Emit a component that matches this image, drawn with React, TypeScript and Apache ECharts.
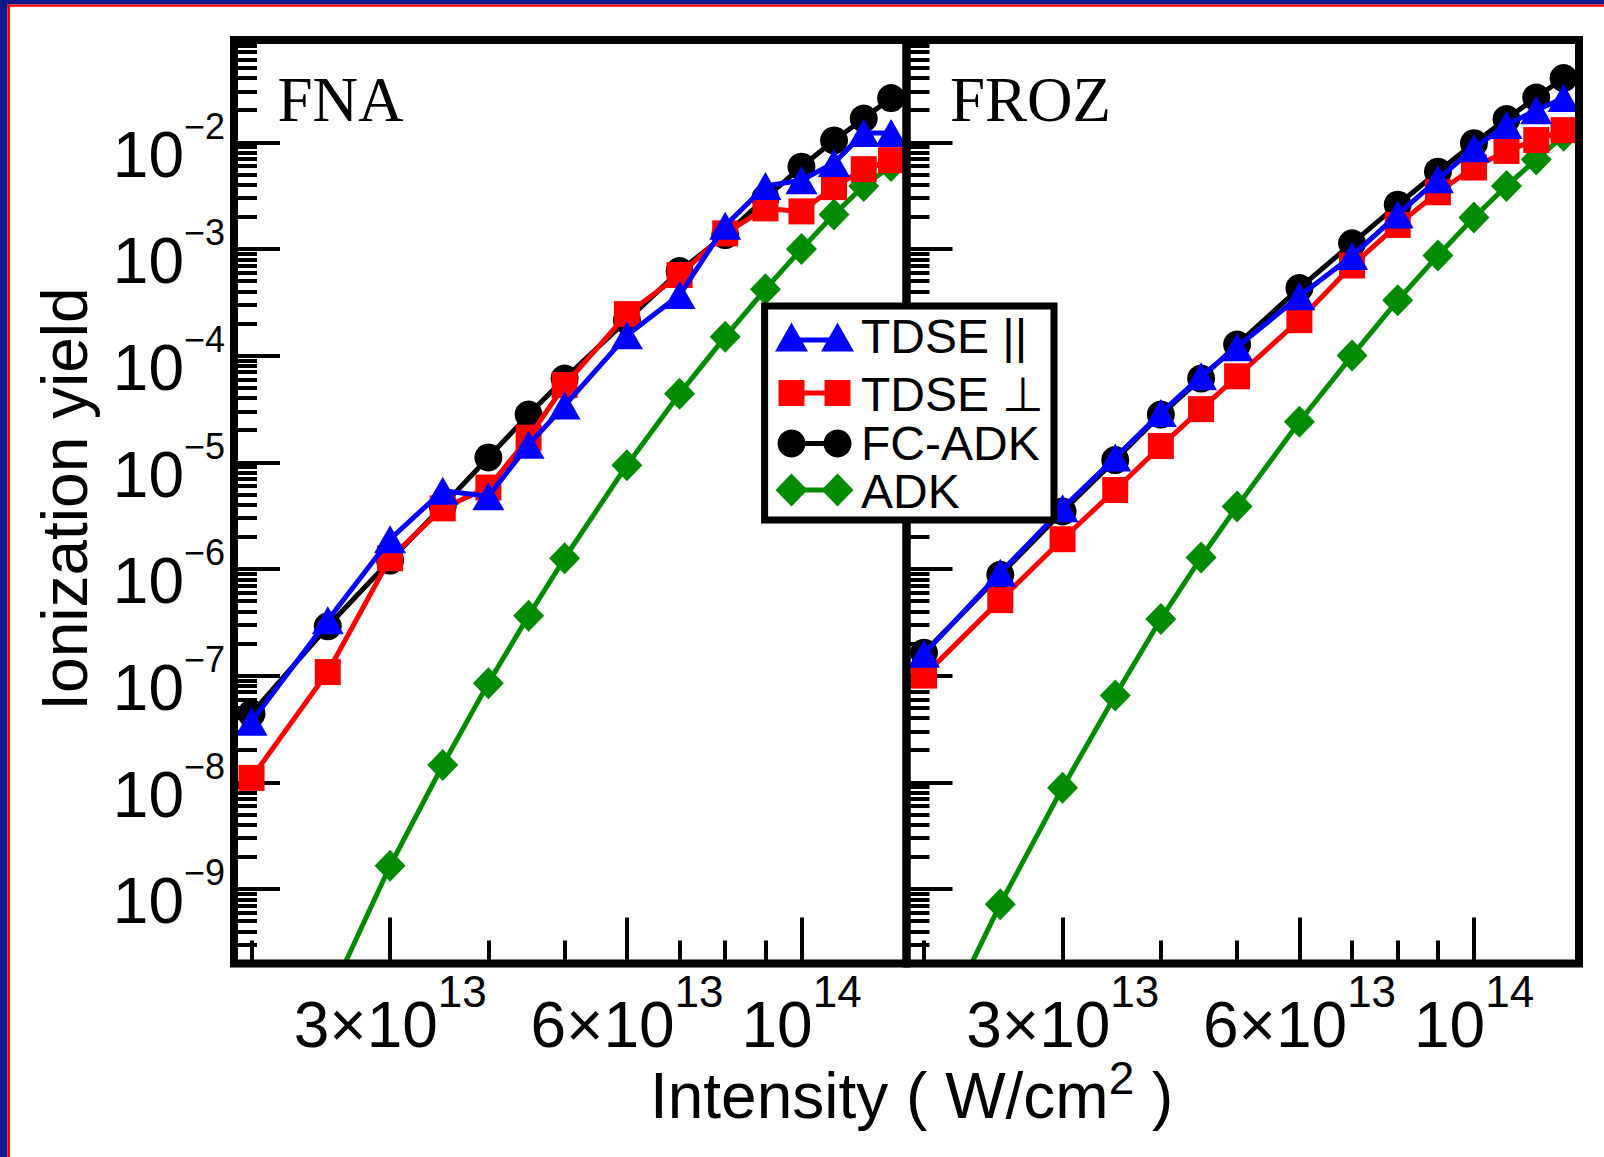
import React, { useEffect, useRef } from "react";
import * as echarts from "echarts";

// Laser intensity (W/cm^2), shared by both panels
const intensity = [
  2e13, 2.5e13, 3e13, 3.5e13, 4e13, 4.5e13, 5e13, 6e13, 7e13, 8e13, 9e13, 1e14,
  1.1e14, 1.2e14, 1.3e14,
];

// FNA panel: ionization yields
const fnaTdsePar = [
  3.7e-8, 3.3e-7, 1.9e-6, 5.4e-6, 4.8e-6, 1.46e-5, 3.4e-5, 1.55e-4, 3.7e-4,
  1.65e-3, 3.9e-3, 4.4e-3, 6.4e-3, 1.22e-2, 1.22e-2,
];
const fnaTdsePerp = [
  1.1e-8, 1.08e-7, 1.26e-6, 3.7e-6, 5.8e-6, 1.7e-5, 5.3e-5, 2.45e-4, 5.7e-4,
  1.4e-3, 2.4e-3, 2.25e-3, 3.8e-3, 5.6e-3, 6.8e-3,
];
const fnaFcAdk = [
  4.4e-8, 2.9e-7, 1.2e-6, 3.9e-6, 1.11e-5, 2.8e-5, 6.1e-5, 2.15e-4, 6.2e-4,
  1.35e-3, 3.0e-3, 5.9e-3, 1.04e-2, 1.67e-2, 2.6e-2,
];
const fnaAdk = [
  3e-12, 9e-11, 1.65e-9, 1.45e-8, 8.5e-8, 3.65e-7, 1.26e-6, 9.4e-6, 4.4e-5,
  1.5e-4, 4.2e-4, 1.0e-3, 2.1e-3, 3.9e-3, 6.0e-3,
];

// FROZ panel: ionization yields
const frozTdsePar = [
  1.6e-7, 9.2e-7, 3.7e-6, 1.11e-5, 2.9e-5, 6.4e-5, 1.2e-4, 3.6e-4, 8.6e-4,
  2.1e-3, 4.5e-3, 8.8e-3, 1.45e-2, 2.0e-2, 2.6e-2,
];
const frozTdsePerp = [
  1.0e-7, 5.1e-7, 1.9e-6, 5.5e-6, 1.42e-5, 3.15e-5, 6.4e-5, 2.15e-4, 7.0e-4,
  1.68e-3, 3.4e-3, 5.8e-3, 8.3e-3, 1.05e-2, 1.3e-2,
];
const frozFcAdk = [
  1.64e-7, 8.8e-7, 3.46e-6, 1.05e-5, 2.8e-5, 6.1e-5, 1.27e-4, 4.3e-4, 1.13e-3,
  2.6e-3, 5.3e-3, 9.8e-3, 1.65e-2, 2.63e-2, 4.0e-2,
];
const frozAdk = [
  2.4e-11, 7.2e-10, 8.9e-9, 6.5e-8, 3.4e-7, 1.28e-6, 3.86e-6, 2.4e-5, 1.0e-4,
  3.3e-4, 8.7e-4, 1.97e-3, 3.9e-3, 6.9e-3, 1.15e-2,
];

// Axis ranges
const xRange = [1.9e13, 1.36e14];
const yRange = [2e-10, 0.091];

// Tick values and labels
const xMajorTicks = [3e13, 6e13, 1e14];
const xMajorLabels = [
  ["3×10", "13"],
  ["6×10", "13"],
  ["10", "14"],
];
const xMinorTicks = [2e13, 4e13, 5e13, 7e13, 8e13, 9e13];
const yMajorTicks = [1e-9, 1e-8, 1e-7, 1e-6, 1e-5, 1e-4, 1e-3, 1e-2];
const yMajorLabels = [
  ["10", "−9"],
  ["10", "−8"],
  ["10", "−7"],
  ["10", "−6"],
  ["10", "−5"],
  ["10", "−4"],
  ["10", "−3"],
  ["10", "−2"],
];

const panelTitles = ["FNA", "FROZ"];
const seriesNames = ["TDSE ||", "TDSE ⊥", "FC-ADK", "ADK"];
const seriesColors = ["#0000ff", "#ff0000", "#000000", "#008b00"];
const seriesSymbols = ["triangle", "rect", "circle", "diamond"];
const seriesSymbolSizes: any[] = [[32, 28], 26, 28, [31, 32]];

const SANS = '"Liberation Sans", Arial, Helvetica, sans-serif';
const SERIF = '"Liberation Serif", "Times New Roman", serif';

const log = Math.log10;

// minor y ticks: 2..9 x 10^k inside the range
function minorYTicks(): number[] {
  const out: number[] = [];
  for (let k = -10; k <= -1; k++) {
    for (let m = 2; m <= 9; m++) {
      const v = m * Math.pow(10, k);
      if (v > yRange[0] * 1.001 && v < yRange[1]) out.push(v);
    }
  }
  return out;
}

function nearestIndex(list: number[], value: number): number {
  let best = 0;
  let dist = Infinity;
  list.forEach((v, i) => {
    const d = Math.abs(log(v) - value);
    if (d < dist) {
      dist = d;
      best = i;
    }
  });
  return best;
}

// layout of the two panels (pixels)
const GRID_TOP = 40;
const GRID_H = 923.5;
const GRID_W = 672.5;
const GRID_LEFTS = [234, 906.5];

const xLabelRich = {
  h: { fontSize: 1, lineHeight: 87.4 },
  b: { fontSize: 64, lineHeight: 64, verticalAlign: "bottom", fontFamily: SANS, color: "#000" },
  s: { fontSize: 44, verticalAlign: "top", fontFamily: SANS, color: "#000" },
};
const yLabelRich = {
  h: { fontSize: 1, lineHeight: 89 },
  b: { fontSize: 64, lineHeight: 64, verticalAlign: "bottom", fontFamily: SANS, color: "#000" },
  s: { fontSize: 36, verticalAlign: "top", padding: [10.4, 0, 0, 0], fontFamily: SANS, color: "#000" },
};

function buildOption() {
  const yMinor = minorYTicks();
  const grids: any[] = [];
  const xAxes: any[] = [];
  const yAxes: any[] = [];
  const series: any[] = [];

  const panels = [
    [fnaTdsePar, fnaTdsePerp, fnaFcAdk, fnaAdk],
    [frozTdsePar, frozTdsePerp, frozFcAdk, frozAdk],
  ];

  panels.forEach((sets, p) => {
    grids.push({
      left: GRID_LEFTS[p],
      top: GRID_TOP,
      width: GRID_W,
      height: GRID_H,
      show: true,
      backgroundColor: "transparent",
      borderColor: "#000",
      borderWidth: 8,
      z: 10,
    });

    const xBase = {
      type: "value",
      gridIndex: p,
      position: "bottom",
      offset: 0,
      min: log(xRange[0]),
      max: log(xRange[1]),
      axisLine: { show: false },
      splitLine: { show: false },
    };
    // major x ticks with labels
    xAxes.push({
      ...xBase,
      axisTick: {
        show: true,
        inside: true,
        length: 46,
        customValues: xMajorTicks.map(log),
        lineStyle: { color: "#000", width: 4 },
      },
      axisLabel: {
        show: true,
        margin: 6,
        customValues: xMajorTicks.map(log),
        formatter: (v: number) => {
          const [b, s] = xMajorLabels[nearestIndex(xMajorTicks, v)];
          return `{h| }{b|${b}}{s|${s}}`;
        },
        rich: xLabelRich,
      },
    });
    // minor x ticks
    xAxes.push({
      ...xBase,
      axisTick: {
        show: true,
        inside: true,
        length: 23,
        customValues: xMinorTicks.map(log),
        lineStyle: { color: "#000", width: 4 },
      },
      axisLabel: { show: false },
    });

    const yBase = {
      type: "value",
      gridIndex: p,
      position: "left",
      offset: 0,
      min: log(yRange[0]),
      max: log(yRange[1]),
      axisLine: { show: false },
      splitLine: { show: false },
    };
    yAxes.push({
      ...yBase,
      axisTick: {
        show: true,
        inside: true,
        length: 46,
        customValues: yMajorTicks.map(log),
        lineStyle: { color: "#000", width: 4 },
      },
      axisLabel: {
        show: p === 0,
        margin: 9,
        customValues: yMajorTicks.map(log),
        formatter: (v: number) => {
          const [b, s] = yMajorLabels[nearestIndex(yMajorTicks, v)];
          return `{h| }{b|${b}}{s|${s}}`;
        },
        rich: yLabelRich,
      },
    });
    yAxes.push({
      ...yBase,
      axisTick: {
        show: true,
        inside: true,
        length: 23,
        customValues: yMinor.map(log),
        lineStyle: { color: "#000", width: 4 },
      },
      axisLabel: { show: false },
    });

    // draw ADK first, TDSE || last (on top)
    [3, 2, 1, 0].forEach((s, order) => {
      series.push({
        type: "line",
        name: seriesNames[s],
        xAxisIndex: p * 2,
        yAxisIndex: p * 2,
        z: 2 + order,
        data: intensity.map((x, i) => [log(x), log(sets[s][i])]),
        symbol: seriesSymbols[s],
        symbolSize: seriesSymbolSizes[s],
        showAllSymbol: true,
        clip: true,
        lineStyle: { color: seriesColors[s], width: 5 },
        itemStyle: { color: seriesColors[s], borderWidth: 0 },
        emphasis: { disabled: true },
        silent: true,
      });
    });
  });

  // legend box contents
  const legendRows = [
    { lineY: 340, markY: 337, textY: 336.5 },
    { lineY: 393, markY: 393, textY: 394 },
    { lineY: 443.5, markY: 443.5, textY: 443.5 },
    { lineY: 490, markY: 490, textY: 491.5 },
  ];
  const markX = [791.5, 837.5];
  const legendEls: any[] = [
    {
      type: "rect",
      shape: { x: 764.6, y: 306, width: 289.4, height: 214 },
      style: { fill: "#fff", stroke: "#000", lineWidth: 7 },
      z: 100,
    },
  ];
  legendRows.forEach((r, s) => {
    const color = seriesColors[s];
    legendEls.push({
      type: "line",
      shape: { x1: markX[0], y1: r.lineY, x2: markX[1], y2: r.lineY },
      style: { stroke: color, lineWidth: 5 },
      z: 101,
    });
    markX.forEach((cx) => {
      const cy = r.markY;
      let el: any;
      if (s === 0) {
        el = {
          type: "polygon",
          shape: { points: [[cx, cy - 14.5], [cx + 16.5, cy + 14.5], [cx - 16.5, cy + 14.5]] },
        };
      } else if (s === 1) {
        el = { type: "rect", shape: { x: cx - 13, y: cy - 13, width: 26, height: 26 } };
      } else if (s === 2) {
        el = { type: "circle", shape: { cx, cy, r: 14 } };
      } else {
        el = {
          type: "polygon",
          shape: { points: [[cx, cy - 16.5], [cx + 16, cy], [cx, cy + 16.5], [cx - 16, cy]] },
        };
      }
      el.style = { fill: color };
      el.z = 102;
      legendEls.push(el);
    });
    legendEls.push({
      type: "text",
      x: 861,
      y: r.textY,
      z: 102,
      style: {
        text: seriesNames[s],
        font: `48px ${SANS}`,
        fill: "#000",
        align: "left",
        verticalAlign: "middle",
      },
    });
  });

  const graphic: any[] = [
    // slide frame
    { type: "rect", shape: { x: 0, y: 0, width: 1604, height: 4.5 }, style: { fill: "#0e1a8c" }, z: 50 },
    { type: "rect", shape: { x: 0, y: 0, width: 7.5, height: 1157 }, style: { fill: "#0e1a8c" }, z: 50 },
    { type: "rect", shape: { x: 7.5, y: 4.5, width: 1596.5, height: 2.2 }, style: { fill: "#ff0000" }, z: 50 },
    { type: "rect", shape: { x: 7.5, y: 4.5, width: 2.5, height: 1152.5 }, style: { fill: "#ff0000" }, z: 50 },
    // panel titles
    ...panelTitles.map((t, p) => ({
      type: "text",
      x: GRID_LEFTS[p] + 43.5,
      y: 100.4,
      z: 50,
      style: { text: t, font: `63px ${SERIF}`, fill: "#000", align: "left", verticalAlign: "middle" },
    })),
    // y-axis title
    {
      type: "text",
      x: 64.8,
      y: 499,
      rotation: Math.PI / 2,
      z: 50,
      style: {
        text: "Ionization yield",
        font: `64px ${SANS}`,
        fill: "#000",
        align: "center",
        verticalAlign: "middle",
      },
    },
    // x-axis title
    {
      type: "text",
      x: 911.5,
      y: 1047.7,
      z: 50,
      style: {
        text: "{h| }{b|Intensity ( W/cm}{s|2}{b| )}",
        align: "center",
        verticalAlign: "top",
        rich: {
          h: { fontSize: 1, lineHeight: 80 },
          b: { fontSize: 64, lineHeight: 64, verticalAlign: "bottom", fontFamily: SANS, fill: "#000" },
          s: { fontSize: 46, verticalAlign: "top", padding: [7.4, 0, 0, 0], fontFamily: SANS, fill: "#000" },
        },
      },
    },
    ...legendEls,
  ];

  return {
    animation: false,
    backgroundColor: "#ffffff",
    grid: grids,
    xAxis: xAxes,
    yAxis: yAxes,
    series,
    graphic,
  };
}

export default function App() {
  const ref = useRef<HTMLDivElement>(null);
  useEffect(() => {
    if (!ref.current) return;
    const chart = echarts.init(ref.current, undefined, { renderer: "svg" });
    chart.setOption(buildOption() as any);
    return () => chart.dispose();
  }, []);
  return (
    <div
      ref={ref}
      style={{ position: "absolute", left: 0, top: 0, width: 1604, height: 1157 }}
    />
  );
}
